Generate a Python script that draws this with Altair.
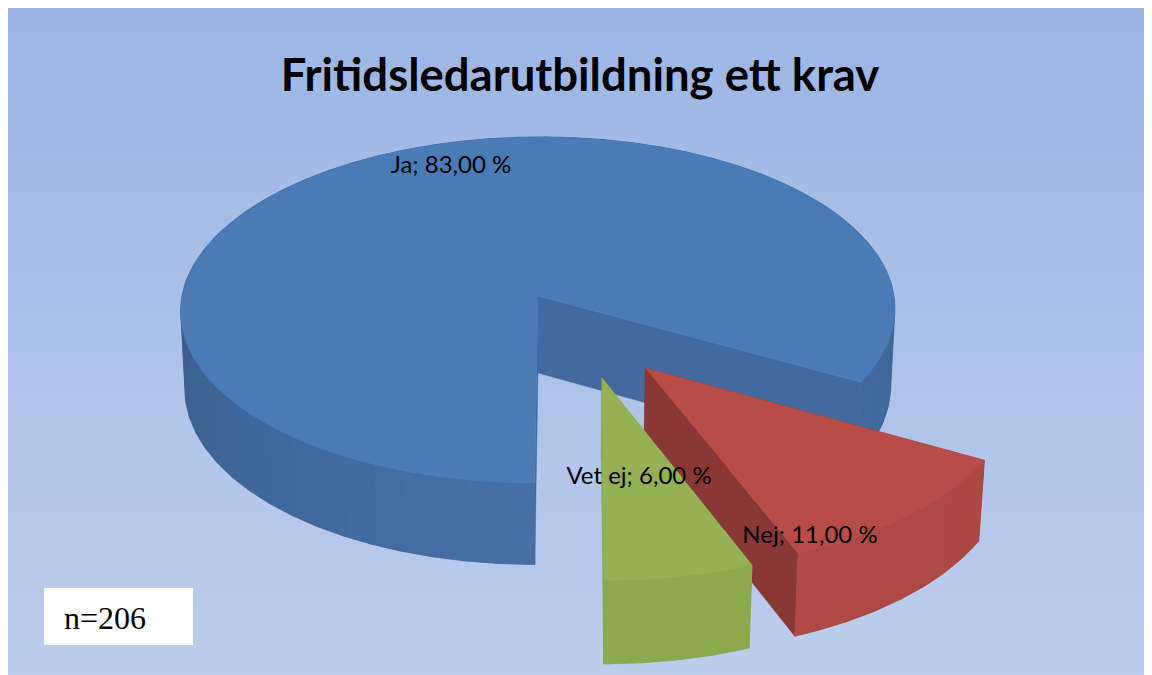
import math
import altair as alt

# --- chart values -----------------------------------------------------------
categories = ["Ja", "Nej", "Vet ej"]
shares = [83.0, 11.0, 6.0]
sample_label = "n=206"
title_text = "Fritidsledarutbildning ett krav"

# --- style -------------------------------------------------------------------
top_colors = ["#4A7BB6", "#B84C47", "#95B154"]
cut_colors = ["#43699F", "#8A3835", "#8DA94F"]
wall_near = ["#4670A6", "#B04A46", "#8DA94F"]
wall_far = ["#395D8C", "#A24541", "#8CA84E"]
explode = [(0.0, 0.0), (0.295, 0.405), (0.177, 0.459)]  # how far each slice is pulled out
label_pos = [(451, 166), (810, 536), (639, 477)]        # page position of the data labels
W, H = 1136, 667
M = 8  # page margin

# --- oblique perspective of the pie: unit disc, thickness Z in 0..1 ----------
def project(X, Y, Z=0.0):
    d = 1 - 0.081 * Y + 0.012 * Z
    return [538 - M + (356 * X - 3 * Y) / d, 296 - M + (171.9 * Y + 78 * Z) / d]


def hex_mix(a, b, t):
    t = max(0.0, min(1.0, t))
    pa = [int(a[i:i + 2], 16) for i in (1, 3, 5)]
    pb = [int(b[i:i + 2], 16) for i in (1, 3, 5)]
    return "#" + "".join(f"{round(u + (v - u) * t):02x}" for u, v in zip(pa, pb))


def feature(points, color):
    ring = points + [points[0]]
    return {
        "type": "Feature",
        "properties": {"col": color},
        "geometry": {"type": "Polygon", "coordinates": [ring]},
    }


features = []
start = 90.0  # the first slice starts straight down and runs clockwise on screen
for i, share in enumerate(shares):
    sweep = share * 3.6
    ex, ey = explode[i]
    n = max(2, int(sweep))
    angles = [start + sweep * k / n for k in range(n + 1)]

    def rim(a, z=0.0):
        r = math.radians(a)
        return project(math.cos(r) + ex, math.sin(r) + ey, z)

    # the two cut faces
    for a in (angles[0], angles[-1]):
        features.append(feature(
            [project(ex, ey), rim(a), rim(a, 1), project(ex, ey, 1)], cut_colors[i]))
    # outer wall: one underlay, then narrow bands that overlap it, so no seams show
    features.append(feature(
        [rim(a) for a in angles] + [rim(a, 1) for a in reversed(angles)], wall_near[i]))
    step = 5
    for k in range(0, n, step):
        a0, a1 = angles[k], angles[min(k + step + 1, n)]
        mid = (angles[k] + angles[min(k + step, n)]) / 2
        off = abs(((mid - 90 + 180) % 360) - 180)
        t = off / 100 if mid <= 270 else off / 170
        features.append(feature(
            [rim(a0), rim(a1), rim(a1, 1), rim(a0, 1)], hex_mix(wall_near[i], wall_far[i], t)))
    # top face
    features.append(feature([project(ex, ey)] + [rim(a) for a in angles], top_colors[i]))
    start += sweep

identity = dict(type="identity", scale=1, translate=[0, 0])

background = alt.Chart(alt.Data(values=[{"a": 1}])).mark_rect(
    color=alt.LinearGradient(
        gradient="linear", x1=0, x2=0, y1=0, y2=1,
        stops=[alt.GradientStop(color="#9CB5E4", offset=0),
               alt.GradientStop(color="#BDCEEC", offset=1)],
    )
).encode(x=alt.value(0), x2=alt.value(W), y=alt.value(0), y2=alt.value(H))

pie = alt.Chart(alt.Data(values=features)).mark_geoshape(strokeWidth=0.4).encode(
    fill=alt.Color("properties.col:N", scale=None),
    stroke=alt.Color("properties.col:N", scale=None),
).project(**identity)

labels_data = [
    {"label": f"{c}; {s:.2f} %".replace(".", ","), "lon": p[0] - M, "lat": p[1] - M}
    for c, s, p in zip(categories, shares, label_pos)
]
labels = alt.Chart(alt.Data(values=labels_data)).mark_text(
    font="Lato", fontSize=24, color="#000000", align="center", baseline="middle"
).encode(
    longitude="lon:Q", latitude="lat:Q", text="label:N"
).project(**identity)

note_box = alt.Chart(alt.Data(values=[{"a": 1}])).mark_rect(color="#FFFFFF").encode(
    x=alt.value(44 - M), x2=alt.value(193 - M), y=alt.value(588 - M), y2=alt.value(645 - M)
)
note = alt.Chart(alt.Data(values=[{"t": sample_label}])).mark_text(
    font="Liberation Serif", fontSize=32, color="#000000", align="left", baseline="alphabetic"
).encode(x=alt.value(64 - M), y=alt.value(629 - M), text="t:N")

chart = alt.layer(background, pie, labels, note_box, note).properties(
    width=W,
    height=H,
    padding=0,
    autosize=alt.AutoSizeParams(type="none"),
    title=alt.TitleParams(
        text=title_text, font="Lato", fontSize=45.5, fontWeight="bold", color="#000000",
        anchor="middle", offset=-128, dx=4, baseline="alphabetic",
    ),
).configure_view(stroke=None)

chart.save("out.html", embed_options={"renderer": "svg", "actions": False})
